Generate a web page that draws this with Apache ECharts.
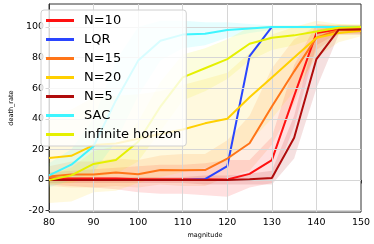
<!DOCTYPE html>
<html><head><meta charset="utf-8">
<script src="https://cdn.jsdelivr.net/npm/echarts@6/dist/echarts.min.js"></script>
<style>html,body{margin:0;padding:0;background:#fff}#c{width:374px;height:244px}</style>
</head><body><div id="c"></div>
<script>
const magnitude = [80,85,90,95,100,105,110,115,120,125,130,135,140,145,150];
const yTicks = [-20,0,20,40,60,80,100];
const xTicks = [90,100,110,120,130,140];

const n10  = [1,1,1,1,0.5,0.5,0.5,0.5,0.3,4,13,55,96,98.5,98.5];
const lqr  = [0,0,0,0,0,0,0,0.5,9,81,100,100,100,100,100];
const n15  = [2.3,3.6,3.6,4.9,3.8,6.5,6.3,6.5,14,24,48,71,93,98,98];
const n20  = [14.4,15.8,22.8,23.8,27,30,33,37,40,54,67,80,93,96,97.5];
const n5   = [0,0,0,0,0,0,0,0,0,0.5,1.3,27.6,79,98.3,98.3];
const sac  = [3,10,22,52,78,91,95,95.5,98,99,100,100,100,100,100];
const inf  = [0,3,10.5,13,25,48,67,73,79,89,93,94.5,97,99.5,100];

const n10Lo = [-3,-4,-5,-6,-8,-9,-9,-10,-11,-5,-2,35,88,96,96];
const n10Hi = [5,6,7,8,9,10,10,11,13,13,28,75,102,101,101];
const n15Lo = [-4,-5,-5,-4,-5,-3,-4,-4,2,6,23,50,85,95,95];
const n15Hi = [9,12,12,14,13,16,17,17,26,42,73,92,101,101,101];
const n20Lo = [-15,-14,-8,-7,-2,2,5,8,12,25,40,58,80,90,94];
const n20Hi = [44,46,54,55,56,58,62,66,70,83,95,100,104,102,101];
const n5Lo  = [-2,-2,-2,-2,-2,-2,-2,-3,-3,-3,-3,14,60,95,95];
const n5Hi  = [2,2,2,2,2,2,2,3,3,4,6,42,98,101,101];
const sacLo = [-5,0,5,25,55,78,86,88,93,96,98,99,99,99,99];
const sacHi = [11,20,40,78,100,104,104,103,103,102,101,101,101,101,101];
const infLo = [-3,-2,2,4,12,32,52,58,66,78,85,88,93,97,98];
const infHi = [3,8,19,22,38,64,82,86,92,100,101,101,101,102,102];

const names = ['N=10','LQR','N=15','N=20','N=5','SAC','infinite horizon'];
const colors = ['#ff1111','#2a45ff','#ff7518','#ffd000','#b00c0c','#3ef5ff','#e5f000'];
const values = [n10,lqr,n15,n20,n5,sac,inf];
const bands = [[n10Lo,n10Hi],null,[n15Lo,n15Hi],[n20Lo,n20Hi],[n5Lo,n5Hi],[sacLo,sacHi],[infLo,infHi]];

const series = [];
bands.forEach((b,k)=>{
  if(!b) return;
  const lo=b[0], hi=b[1];
  series.push({
    type:'custom', name: names[k]+' band', silent:true, clip:true, z:1,
    data: magnitude.map((v,i)=>[v,lo[i],hi[i]]),
    encode:{x:0,y:[1,2]},
    renderItem:function(params,api){
      if(params.dataIndex!==0) return;
      const pts=[];
      for(let i=0;i<magnitude.length;i++) pts.push(api.coord([magnitude[i],lo[i]]));
      for(let i=magnitude.length-1;i>=0;i--) pts.push(api.coord([magnitude[i],hi[i]]));
      return {type:'polygon',shape:{points:pts},style:{fill:colors[k],opacity:0.13}};
    }
  });
});
series.push({
  type:'line', name:'grid', data:[], z:2, silent:true,
  markLine:{
    silent:true, symbol:['none','none'], animation:false,
    label:{show:false},
    lineStyle:{color:'#d6d6d6',width:1,type:'solid'},
    emphasis:{disabled:true},
    data: yTicks.map(v=>({yAxis:v})).concat(xTicks.map(v=>({xAxis:v})))
  }
});
names.forEach((n,k)=>{
  series.push({
    type:'line', name:n, data: magnitude.map((v,i)=>[v,values[k][i]]),
    showSymbol:false, symbol:'none', z:3+k, color:colors[k],
    lineStyle:{width:2,color:colors[k]}, clip:true
  });
});

const chart = echarts.init(document.getElementById('c'),null,{renderer:'canvas'});
chart.setOption({
  animation:false,
  backgroundColor:'#fff',
  grid:{left:35,right:13,top:4,bottom:25,show:true,borderColor:'#333',borderWidth:1,backgroundColor:'transparent'},
  legend:{
    data:names, orient:'vertical', left:41, top:10,
    padding:[3,5,4,5], itemGap:4, itemWidth:28, itemHeight:3, icon:'rect',
    backgroundColor:'rgba(255,255,255,0.8)', borderColor:'#d0d0d0', borderWidth:1, borderRadius:3,
    textStyle:{fontFamily:'DejaVu Sans',fontSize:13,color:'#000',lineHeight:15,padding:[0,0,0,5]},
    z:20
  },
  xAxis:{
    type:'value', min:80, max:150, interval:10,
    name:'magnitude', nameLocation:'middle', nameGap:17,
    nameTextStyle:{fontFamily:'DejaVu Sans',fontSize:6.5,color:'#000'},
    axisLine:{lineStyle:{color:'#333',width:1}},
    axisTick:{length:3.5,lineStyle:{color:'#333'}},
    axisLabel:{fontFamily:'DejaVu Sans',fontSize:9.5,color:'#000',margin:5},
    splitLine:{show:false}
  },
  yAxis:{
    type:'value', min:-21, max:115,
    name:'death_rate', nameLocation:'middle', nameGap:29, nameRotate:90,
    nameTextStyle:{fontFamily:'DejaVu Sans',fontSize:6.5,color:'#000'},
    axisLine:{show:true,lineStyle:{color:'#333',width:1}},
    axisTick:{show:true,length:3.5,lineStyle:{color:'#333'},customValues:yTicks},
    axisLabel:{fontFamily:'DejaVu Sans',fontSize:9.5,color:'#000',margin:5,customValues:yTicks},
    splitLine:{show:false}
  },
  series:series
});
</script></body></html>
